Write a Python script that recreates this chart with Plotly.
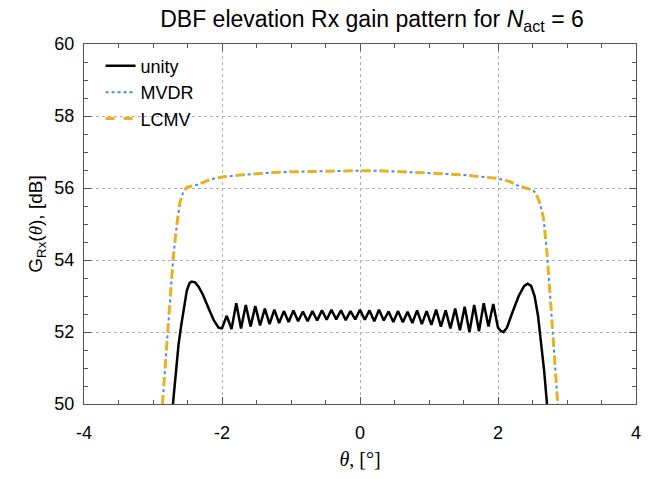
import numpy as np
import plotly.graph_objects as go

# ---- data ----
unity_x_left = [-2.76, -2.71, -2.67, -2.63, -2.59, -2.55, -2.51, -2.47, -2.44, -2.39, -2.34, -2.28, -2.22, -2.17, -2.12, -2.05]
unity_y_left = [49.0, 50.03, 50.95, 51.65, 52.20, 52.75, 53.15, 53.36, 53.40, 53.38, 53.26, 53.05, 52.80, 52.55, 52.33, 52.12]

unity_mid = [52.10, 52.45, 52.08, 52.80, 52.10, 52.75, 52.15, 52.72, 52.18, 52.65,
             52.22, 52.62, 52.25, 52.58, 52.28, 52.60, 52.30, 52.57, 52.30, 52.58,
             52.32, 52.60, 52.34, 52.62, 52.35, 52.60, 52.33, 52.58, 52.35, 52.62,
             52.34, 52.60, 52.30, 52.62, 52.32, 52.57, 52.28, 52.58, 52.27, 52.56,
             52.25, 52.60, 52.22, 52.58, 52.20, 52.62, 52.15, 52.60, 52.10, 52.65,
             52.05, 52.70, 52.00, 52.75, 52.02, 52.80, 52.15, 52.78, 52.12]

unity_x_right = [2.04, 2.08, 2.13, 2.20, 2.30, 2.38, 2.43, 2.48, 2.53, 2.58, 2.62, 2.67, 2.71, 2.75]
unity_y_right = [52.03, 52.00, 52.12, 52.50, 53.00, 53.28, 53.34, 53.28, 53.00, 52.45, 51.80, 50.90, 50.00, 49.0]

mvdr_x = [-2.92, -2.86, -2.80, -2.75, -2.71, -2.66, -2.61, -2.56, -2.51, -2.45, -2.34, -2.17, -1.98,
          -1.74, -1.50, -1.26, -1.00, -0.77, -0.50, -0.29, 0.00, 0.29, 0.53, 0.77, 1.01, 1.26,
          1.50, 1.74, 1.98, 2.17, 2.27, 2.40, 2.51, 2.56, 2.61, 2.66, 2.71, 2.76, 2.81, 2.86, 2.92]
mvdr_y = [48.5, 50.0, 51.6, 52.9, 54.0, 54.9, 55.6, 55.9, 56.02, 56.05, 56.10, 56.24, 56.31,
          56.36, 56.40, 56.43, 56.45, 56.46, 56.47, 56.48, 56.48, 56.48, 56.46, 56.45, 56.42, 56.39,
          56.36, 56.32, 56.27, 56.18, 56.08, 56.00, 55.94, 55.80, 55.57, 55.16, 54.20, 52.90, 51.50, 50.00, 48.5]

lcmv_x = [-2.92, -2.86, -2.80, -2.75, -2.71, -2.66, -2.61, -2.56, -2.51, -2.45, -2.34, -2.17, -1.98,
          -1.74, -1.50, -1.26, -1.00, -0.77, -0.50, -0.29, 0.00, 0.29, 0.53, 0.77, 1.01, 1.26,
          1.50, 1.74, 1.98, 2.17, 2.27, 2.40, 2.51, 2.56, 2.61, 2.66, 2.71, 2.76, 2.81, 2.86, 2.92]
lcmv_y = [48.5, 50.0, 51.6, 52.9, 54.0, 54.9, 55.6, 55.9, 56.02, 56.05, 56.10, 56.24, 56.31,
          56.36, 56.40, 56.43, 56.45, 56.46, 56.47, 56.48, 56.48, 56.48, 56.46, 56.45, 56.42, 56.39,
          56.36, 56.32, 56.27, 56.18, 56.08, 56.00, 55.94, 55.80, 55.57, 55.16, 54.20, 52.90, 51.50, 50.00, 48.5]

x_ticks = [-4, -2, 0, 2, 4]
x_tick_labels = ["-4", "-2", "0", "2", "4"]
y_ticks = [50, 52, 54, 56, 58, 60]
y_tick_labels = ["50", "52", "54", "56", "58", "60"]

unity_x = unity_x_left + list(np.linspace(-2.0, 2.0, len(unity_mid))) + unity_x_right
unity_y = unity_y_left + unity_mid + unity_y_right

fig = go.Figure()
fig.add_trace(go.Scatter(x=unity_x, y=unity_y, mode="lines", name="unity",
                         line=dict(color="black", width=2.5)))
fig.add_trace(go.Scatter(x=mvdr_x, y=mvdr_y, mode="lines", name="MVDR",
                         line=dict(color="#3f8fd8", width=2, dash="dot")))
fig.add_trace(go.Scatter(x=lcmv_x, y=lcmv_y, mode="lines", name="LCMV",
                         line=dict(color="#EDB120", width=3, dash="dash")))

axis_common = dict(
    showline=True, linecolor="#555555", linewidth=1, mirror="ticks",
    ticks="inside", ticklen=7, tickcolor="#555555",
    showgrid=True, gridcolor="#b0b0b0", griddash="dot", gridwidth=1,
    zeroline=False,
    tickfont=dict(family="Liberation Sans, Arial", size=18, color="black"),
    minor=dict(ticks="inside", dtick=0.5, ticklen=4, tickcolor="#555555", showgrid=False),
)

fig.update_layout(
    width=658, height=479,
    margin=dict(l=84, r=22, t=44, b=75),
    plot_bgcolor="white", paper_bgcolor="white",
    title=dict(text="DBF elevation Rx gain pattern for <i>N</i><sub>act</sub> = 6",
               x=372 / 658, xanchor="center", y=1 - 19 / 479, yanchor="middle",
               font=dict(family="Liberation Sans, Arial", size=23, color="black")),
    legend=dict(x=0.03, y=0.99, xanchor="left", yanchor="top", bgcolor="rgba(0,0,0,0)",
                font=dict(family="Liberation Sans, Arial", size=18, color="black"),
                tracegroupgap=0),
    xaxis=dict(range=[-4, 4], tickvals=x_ticks, ticktext=x_tick_labels, ticklabelstandoff=12,
               title=dict(text="<i>θ</i>, [°]", standoff=10,
                          font=dict(family="Liberation Serif, Times New Roman", size=20, color="black")),
               **axis_common),
    yaxis=dict(range=[50, 60], tickvals=y_ticks, ticktext=y_tick_labels, ticklabelstandoff=5,
               title=dict(text="G<sub>Rx</sub>(<span style=\"font-family:Liberation Serif\"><i>θ</i></span>), [dB]",
                          standoff=6,
                          font=dict(family="Liberation Sans, Arial", size=19, color="black")),
               **axis_common),
)

fig.write_html("out.html")
